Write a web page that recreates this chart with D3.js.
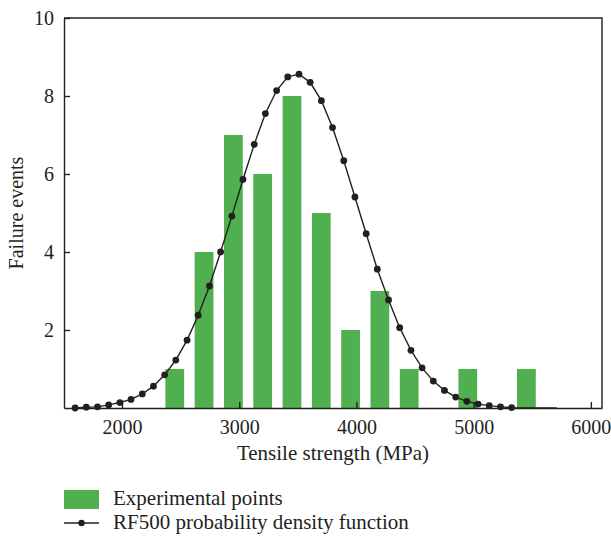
<!DOCTYPE html>
<html>
<head>
<meta charset="utf-8">
<script src="https://d3js.org/d3.v7.min.js"></script>
<style>
  body { margin: 0; background: #fff; }
  text { font-family: "Liberation Serif", "DejaVu Serif", serif; fill: #231f20; }
</style>
</head>
<body>
<div id="my_dataviz"></div>
<script>
// histogram of experimental failures
var binCenters = [2450, 2700, 2950, 3200, 3450, 3700, 3950, 4200, 4450, 4700, 4950, 5200, 5450];
var binCounts = [1, 4, 7, 6, 8, 5, 2, 3, 1, 0, 1, 0, 1];
var binWidth = 160;

// RF500 pdf curve (markers)
var pdfX = [1600, 1695, 1791, 1886, 1982, 2077, 2173, 2268, 2364, 2459,
  2555, 2650, 2746, 2841, 2937, 3032, 3128, 3223, 3319, 3414,
  3510, 3605, 3701, 3796, 3892, 3987, 4083, 4178, 4274, 4369,
  4465, 4560, 4656, 4751, 4847, 4942, 5038, 5133, 5229, 5324];
var pdfY = [0.0, 0.02, 0.03, 0.08, 0.14, 0.22, 0.36, 0.56, 0.85, 1.23,
  1.74, 2.38, 3.13, 4.0, 4.92, 5.86, 6.76, 7.55, 8.14, 8.49,
  8.56, 8.35, 7.88, 7.19, 6.34, 5.41, 4.47, 3.56, 2.77, 2.06,
  1.48, 1.03, 0.69, 0.45, 0.28, 0.17, 0.10, 0.06, 0.03, 0.01];
// line keeps going along zero after the last marker
var tailX = [5710];
var tailY = [0];

var xTicks = [2000, 3000, 4000, 5000, 6000];
var yTicks = [2, 4, 6, 8, 10];

var margin = { top: 18, right: 9, bottom: 136, left: 64 },
  width = 611 - margin.left - margin.right,
  height = 544 - margin.top - margin.bottom;

var svg = d3.select("#my_dataviz")
  .append("svg")
  .attr("width", 611)
  .attr("height", 544)
  .append("g")
  .attr("transform", "translate(" + margin.left + "," + margin.top + ")");

var x = d3.scaleLinear()
  .domain([1505, 6095])
  .range([0, width]);

var y = d3.scaleLinear()
  .domain([0, 10])
  .range([height, 0]);

// bars
svg.append("g")
  .selectAll("rect")
  .data(binCenters.map(function (c, i) { return { x: c, n: binCounts[i] }; })
    .filter(function (d) { return d.n > 0; }))
  .enter().append("rect")
  .attr("x", function (d) { return x(d.x - binWidth / 2); })
  .attr("width", function (d) { return x(d.x + binWidth / 2) - x(d.x - binWidth / 2); })
  .attr("y", function (d) { return y(d.n); })
  .attr("height", function (d) { return y(0) - y(d.n); })
  .attr("fill", "#50b04f");

// curve
var pts = pdfX.map(function (v, i) { return [v, pdfY[i]]; });
var linePts = pts.concat(tailX.map(function (v, i) { return [v, tailY[i]]; }));

svg.append("path")
  .datum(linePts)
  .attr("fill", "none")
  .attr("stroke", "#231f20")
  .attr("stroke-width", 1.4)
  .attr("d", d3.line()
    .x(function (d) { return x(d[0]); })
    .y(function (d) { return y(d[1]); }));

svg.append("g")
  .selectAll("circle")
  .data(pts)
  .enter().append("circle")
  .attr("cx", function (d) { return x(d[0]); })
  .attr("cy", function (d) { return y(d[1]); })
  .attr("r", 3.4)
  .attr("fill", "#231f20");

// axes, ticks pointing inward
var xAxis = svg.append("g")
  .attr("transform", "translate(0," + height + ")")
  .call(d3.axisBottom(x).tickValues(xTicks).tickSize(-6).tickSizeOuter(0).tickPadding(12)
    .tickFormat(d3.format("d")));
xAxis.selectAll("text").style("font-size", "20px").attr("dy", "0.71em");

var yAxis = svg.append("g")
  .call(d3.axisLeft(y).tickValues(yTicks).tickSize(-6).tickSizeOuter(0).tickPadding(10));
yAxis.selectAll("text").style("font-size", "20px");

svg.selectAll(".domain, .tick line")
  .attr("stroke", "#231f20")
  .attr("stroke-width", 1.4);

// frame top and right
svg.append("path")
  .attr("d", "M0,0H" + width + "V" + height)
  .attr("fill", "none")
  .attr("stroke", "#231f20")
  .attr("stroke-width", 1.4);

svg.append("text")
  .attr("x", width / 2)
  .attr("y", height + 52)
  .style("text-anchor", "middle")
  .style("font-size", "21px")
  .text("Tensile strength (MPa)");

svg.append("text")
  .attr("transform", "rotate(-90)")
  .attr("x", -height / 2)
  .attr("y", -margin.left + 23)
  .style("text-anchor", "middle")
  .style("font-size", "20px")
  .text("Failure events");

// legend
var legend = d3.select("svg").append("g");

legend.append("rect")
  .attr("x", 64).attr("y", 490)
  .attr("width", 35).attr("height", 19)
  .attr("fill", "#50b04f");

legend.append("text")
  .attr("x", 113).attr("y", 505)
  .style("font-size", "21px")
  .text("Experimental points");

legend.append("line")
  .attr("x1", 64).attr("x2", 99)
  .attr("y1", 523).attr("y2", 523)
  .attr("stroke", "#231f20")
  .attr("stroke-width", 1.4);

legend.append("circle")
  .attr("cx", 81.5).attr("cy", 523).attr("r", 3.2)
  .attr("fill", "#231f20");

legend.append("text")
  .attr("x", 113).attr("y", 529)
  .style("font-size", "21px")
  .text("RF500 probability density function");
</script>
</body>
</html>
